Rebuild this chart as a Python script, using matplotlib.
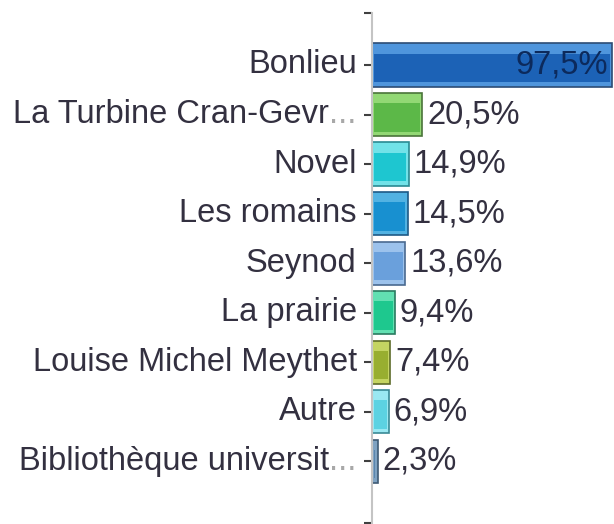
import matplotlib
matplotlib.use("Agg")
import matplotlib.pyplot as plt

categories = ["Bonlieu", "La Turbine Cran-Gevr", "Novel", "Les romains", "Seynod",
              "La prairie", "Louise Michel Meythet", "Autre", "Bibliothèque universit"]
truncated = [False, True, False, False, False, False, False, False, True]
values = [97.5, 20.5, 14.9, 14.5, 13.6, 9.4, 7.4, 6.9, 2.3]
value_labels = ["97,5%", "20,5%", "14,9%", "14,5%", "13,6%", "9,4%", "7,4%", "6,9%", "2,3%"]
main_colors = ["#1c62b6", "#5cb848", "#1ec6d0", "#1890d0", "#6aa0dc",
               "#1ec88e", "#98ae30", "#5cd2e2", "#5a86ae"]
light_colors = ["#4f95dc", "#92d874", "#72e2e8", "#52b2e2", "#9cc2ec",
                "#62e0b2", "#c4d462", "#9ae8f2", "#7ea2c2"]
edge_colors = ["#2c4c74", "#4a743a", "#2a8a92", "#1e5a86", "#4a6a90",
               "#2a7a60", "#5e6c2a", "#3a8a96", "#3e5a74"]

plt.rcParams['font.family'] = ['Liberation Sans', 'DejaVu Sans']

DPI = 100
fig = plt.figure(figsize=(6.14, 5.24), dpi=DPI)
ax = fig.add_axes([372 / 614, 1 - 523 / 524, 242 / 614, (523 - 13) / 524])

pos = list(range(len(categories)))
h = 0.87
ax.barh(pos, values, height=h, color=light_colors, edgecolor=edge_colors, linewidth=1.2, zorder=2)
# inner (darker) face to imitate the bevel
inset_x = 0.9
ax.barh([p + 0.06 for p in pos], [max(v - 2 * inset_x, 0.3) for v in values], left=inset_x,
        height=h * 0.66, color=main_colors, linewidth=0, zorder=3)

ax.set_xlim(0, 98.4)
ax.set_ylim(9.25, -1.05)

for sp in ["top", "right", "bottom"]:
    ax.spines[sp].set_visible(False)
ax.spines["left"].set_color("#c4c4c4")
ax.spines["left"].set_linewidth(1.5)
ax.set_xticks([])
ax.set_yticks([-1.05] + pos + [9.25])
ax.set_yticklabels([])
ax.tick_params(axis="y", length=5.5, width=1.5, color="#404040", direction="out")

fs = 23.5
text_color = "#333040"
fig.canvas.draw()
renderer = fig.canvas.get_renderer()
for i, (cat, tr) in enumerate(zip(categories, truncated)):
    off = -11
    if tr:
        t = ax.annotate("...", xy=(0, i), xycoords=("axes fraction", "data"),
                        xytext=(off, 0), textcoords="offset points",
                        ha="right", va="center", fontsize=fs, color="#a8a8a8")
        w = t.get_window_extent(renderer).width * 72 / DPI
        off -= w
    ax.annotate(cat, xy=(0, i), xycoords=("axes fraction", "data"),
                xytext=(off, 0), textcoords="offset points",
                ha="right", va="center", fontsize=fs, color=text_color)

for i, (v, lab) in enumerate(zip(values, value_labels)):
    if i == 0:
        ax.annotate(lab, xy=(v, i), xytext=(-3, 0), textcoords="offset points",
                    ha="right", va="center", fontsize=fs, color="#0c2a5c", zorder=5)
    else:
        ax.annotate(lab, xy=(v, i), xytext=(3.5, 0), textcoords="offset points",
                    ha="left", va="center", fontsize=fs, color=text_color, zorder=5)

fig.savefig("out.png", dpi=DPI)
